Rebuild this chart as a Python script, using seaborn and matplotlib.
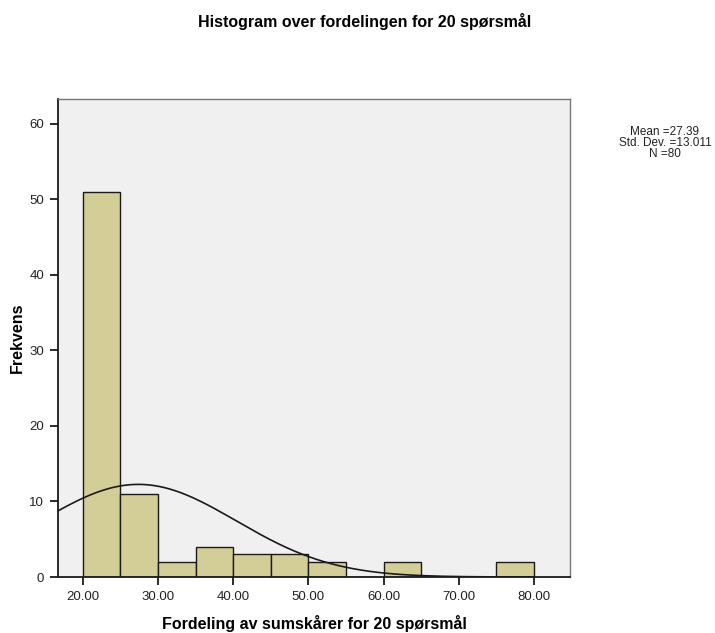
import numpy as np
import pandas as pd
import matplotlib
matplotlib.use("Agg")
import matplotlib.pyplot as plt
import seaborn as sns

# Frequency per score interval (width 5)
bin_edges = [20, 25, 30, 35, 40, 45, 50, 55, 60, 65, 70, 75, 80]
bin_counts = [51, 11, 2, 4, 3, 3, 2, 0, 2, 0, 0, 2]
mean_score = 27.39
sd_score = 13.011
n_total = 80
x_ticks = [20, 30, 40, 50, 60, 70, 80]
y_ticks = [0, 10, 20, 30, 40, 50, 60]

sns.set_theme(style="white")
plt.rcParams["font.family"] = ["Liberation Sans", "DejaVu Sans"]

centers = [(a + b) / 2 for a, b in zip(bin_edges[:-1], bin_edges[1:])]
df = pd.DataFrame({"score": centers, "count": bin_counts})

fig = plt.figure(figsize=(7.15, 6.33), dpi=100)
ax = fig.add_axes([58 / 715, 56 / 633, 512 / 715, 478 / 633])
ax.set_facecolor("#f0f0f0")

sns.histplot(data=df, x="score", weights="count", bins=bin_edges, ax=ax,
             color="#d3ce97", alpha=1, edgecolor="#1a1a1a", linewidth=1.0)

# Normal curve scaled to counts
xmin, xmax = 16.7, 84.8
xs = np.linspace(xmin, 80, 400)
bw = 5
ys = n_total * bw / (sd_score * np.sqrt(2 * np.pi)) * np.exp(-0.5 * ((xs - mean_score) / sd_score) ** 2)
sns.lineplot(x=xs, y=ys, ax=ax, color="#1a1a1a", linewidth=1.2)

ax.set_xlim(xmin, xmax)
ax.set_ylim(0, 63.3)
ax.set_xticks(x_ticks)
ax.set_xticklabels([f"{v:.2f}" for v in x_ticks], fontsize=9.5, color="#222222")
ax.set_yticks(y_ticks)
ax.set_yticklabels([str(v) for v in y_ticks], fontsize=9.5, color="#222222")
ax.tick_params(axis="both", direction="out", length=6, width=1.3, color="#1a1a1a",
               bottom=True, left=True, pad=4)

for side in ["top", "right"]:
    ax.spines[side].set_color("#777777")
    ax.spines[side].set_linewidth(1.0)
for side in ["left", "bottom"]:
    ax.spines[side].set_color("#1a1a1a")
    ax.spines[side].set_linewidth(1.3)

ax.set_xlabel("Fordeling av sumskårer for 20 spørsmål", fontsize=11.5, fontweight="bold",
              labelpad=9, color="black")
ax.set_ylabel("Frekvens", fontsize=11.5, fontweight="bold", labelpad=3, color="black")

fig.text(365 / 715, 1 - 22 / 633, "Histogram over fordelingen for 20 spørsmål",
         ha="center", va="center", fontsize=11.5, fontweight="bold", color="black")
fig.text(665 / 715, 1 - 143 / 633,
         f"Mean ={mean_score}\nStd. Dev. ={sd_score}\nN ={n_total}",
         ha="center", va="center", fontsize=8.5, linespacing=0.85, color="#222222")

fig.savefig("out.png", dpi=100)
